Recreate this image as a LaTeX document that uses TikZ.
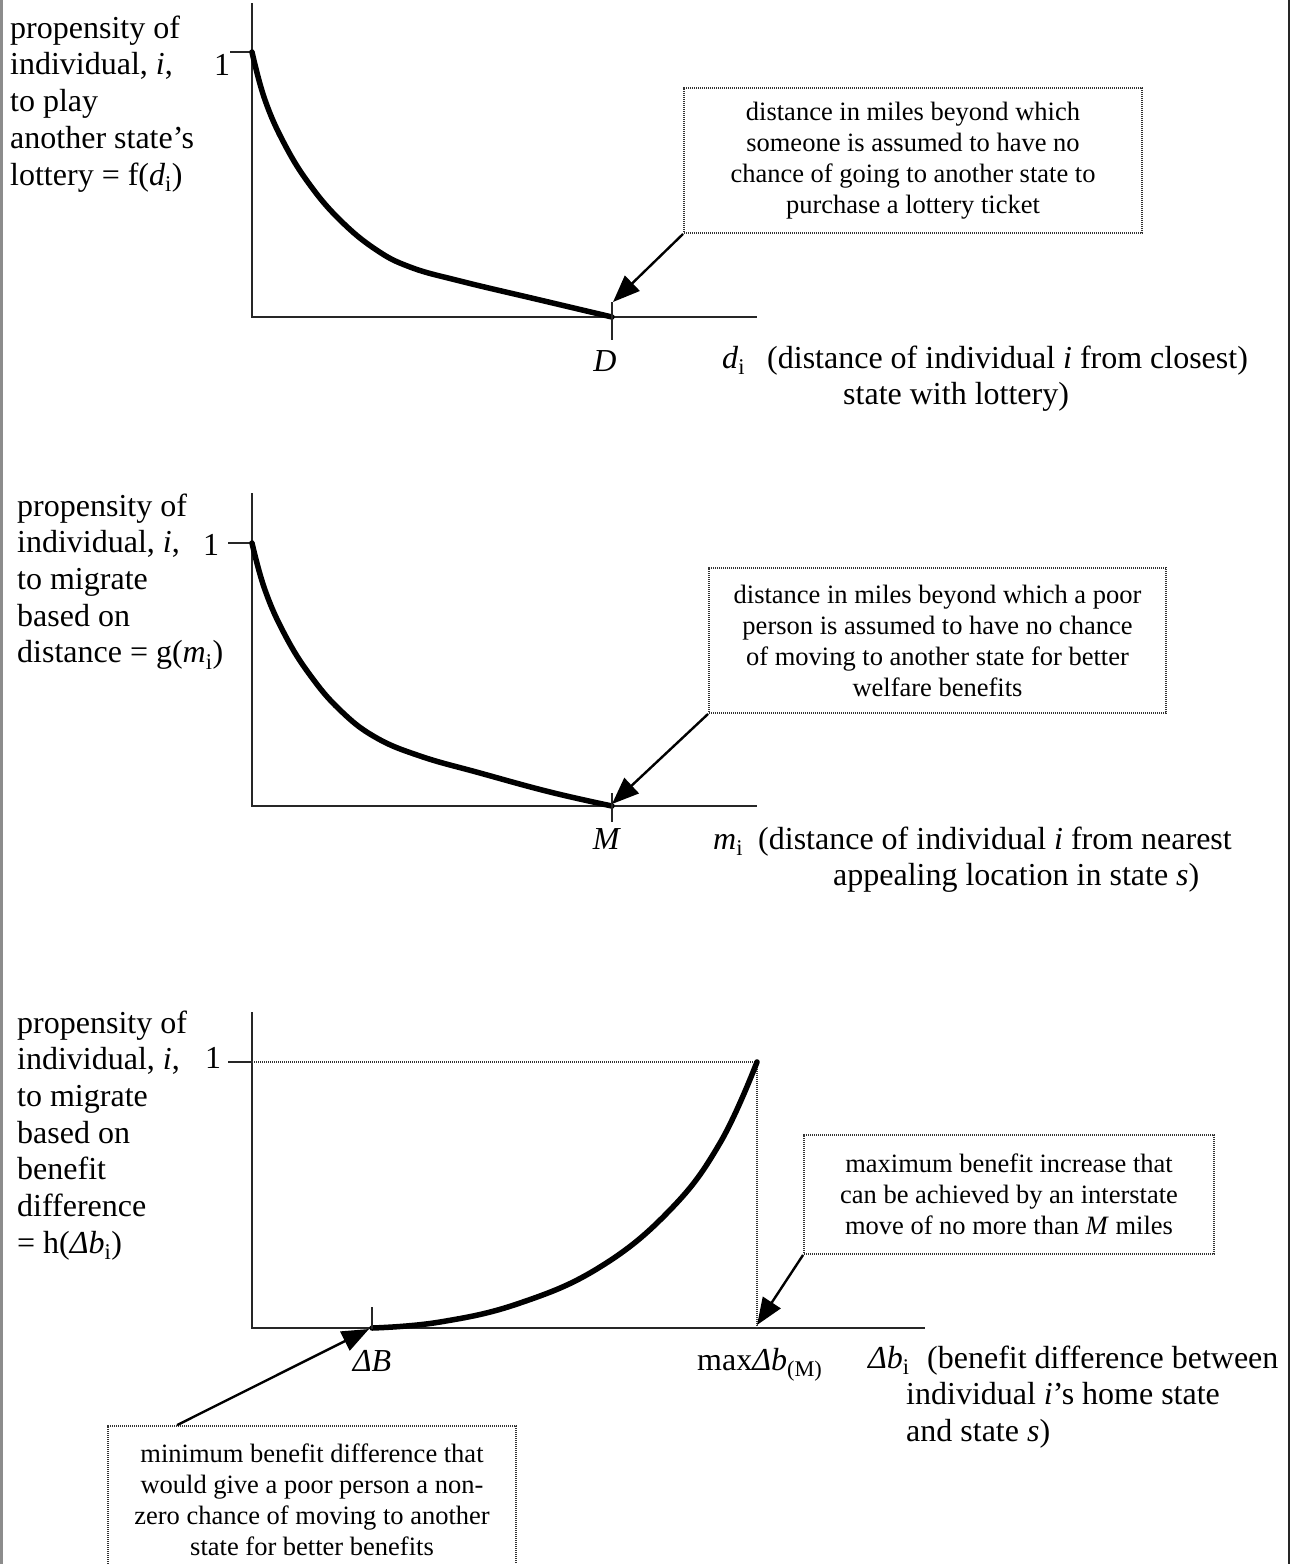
\documentclass[tikz,border=0pt]{standalone}
\usepackage{fontspec}
\setmainfont{Liberation Serif}
\usetikzlibrary{arrows.meta,calc}
\newcommand\bigfont{\fontsize{32}{36.7}\selectfont}
\newcommand\boxfont{\fontsize{26.5}{31}\selectfont}
\tikzset{
 axis/.style={line width=2.6pt, black!85},
 curve/.style={line width=5.5pt, line cap=round, line join=round},
 tickln/.style={line width=1.4pt, black!85},
 callout/.style={draw=black!80, line width=1.8pt, dash pattern=on 1.2pt off 0.8pt, inner sep=0pt, align=center, font=\boxfont},
 pointer/.style={line width=2.4pt, -{Triangle[length=27pt,width=21pt]}},
 guide/.style={line width=1.8pt, dash pattern=on 1.2pt off 0.8pt, black!80},
 lbl/.style={inner sep=0pt, font=\bigfont, anchor=base west, align=left},
 tlbl/.style={inner sep=0pt, font=\bigfont, anchor=base},
}
\begin{document}
\begin{tikzpicture}[x=1pt,y=-1pt]
\path[use as bounding box, clip] (0,0) rectangle (1291,1564);
% page borders
\draw[line width=3pt, black!45] (1.5,0) -- (1.5,1564);
\draw[line width=2pt, black!85] (1288.5,0) -- (1288.5,1564);

% ---------- graph 1 ----------
% (base anchor of a multi-line node = baseline of its last line)
\node[lbl] (p1) at (10,185) {propensity of\\individual, \textit{i},\\to play\\another state’s\\lottery = f(\textit{d}\textsubscript{i})};
\coordinate (o1) at (252,317);
\draw[axis] (252,3) -- (o1) -- (757,317);
\draw[tickln] (230,52) -- (252,52);
\node[lbl] (one1) at (214,75) {1};
\draw[curve] plot[smooth, tension=0.7] coordinates {(252,52) (265,100) (285,145) (310,185) (340,220) (375,249) (410,267) (460,281) (540,300) (612,317)};
\draw[tickln] (612,302) -- (612,340);
\node[tlbl] (Dlab) at (605,371) {\textit{D}};
\node[callout, minimum width=458pt, minimum height=145pt] (b1) at (913,160.5) {distance in miles beyond which\\someone is assumed to have no\\chance of going to another state to\\purchase a lottery ticket};
\coordinate (Dtip) at (613,302);
\draw[pointer] (b1.south west) -- (Dtip);
\node[lbl] (d1) at (722,368) {\textit{d}\textsubscript{i}};
\node[lbl] (ax1) at (767,404.7) {(distance of individual \textit{i} from closest)\\\hspace*{76pt}state with lottery)};

% ---------- graph 2 ----------
\node[lbl] (p2) at (17,662.8) {propensity of\\individual, \textit{i},\\to migrate\\based on\\distance = g(\textit{m}\textsubscript{i})};
\draw[axis] (252,493) -- (252,806) -- (757,806);
\draw[tickln] (228,543) -- (252,543);
\node[lbl] (one2) at (203,555) {1};
\draw[curve] plot[smooth, tension=0.7] coordinates {(252,543) (265,590) (285,635) (310,675) (340,710) (375,737) (420,756) (480,773) (550,792) (612,806)};
\draw[tickln] (612,793) -- (612,822);
\node[tlbl] (Mlab) at (607,849) {\textit{M}};
\node[callout, minimum width=457pt, minimum height=145pt] (b2) at (937.5,640.5) {distance in miles beyond which a poor\\person is assumed to have no chance\\of moving to another state for better\\welfare benefits};
\coordinate (Mtip) at (612,804);
\draw[pointer] (b2.south west) -- (Mtip);
\node[lbl] (m2) at (713,849) {\textit{m}\textsubscript{i}};
\node[lbl] (ax2) at (758,885.7) {(distance of individual \textit{i} from nearest\\\hspace*{75pt}appealing location in state \textit{s})};

% ---------- graph 3 ----------
\node[lbl] (p3) at (17,1253.2) {propensity of\\individual, \textit{i},\\to migrate\\based on\\benefit\\difference\\= h(\textit{Δb}\textsubscript{i})};
\draw[axis] (252,1012) -- (252,1328) -- (925,1328);
\draw[tickln] (228,1062) -- (252,1062);
\node[lbl] (one3) at (205,1068) {1};
\draw[guide] (252,1062) -- (757,1062) -- (757,1328);
\draw[curve] plot[smooth, tension=0.7] coordinates {(372,1328) (440,1322) (520,1303) (600,1267) (670,1210) (720,1143) (757,1062)};
\draw[tickln] (372,1307) -- (372,1329);
\node[tlbl] (Blab) at (372,1371) {\textit{ΔB}};
\node[lbl] (maxlab) at (697,1370) {max\textit{Δb}\textsubscript{(M)}};
\node[callout, minimum width=410pt, minimum height=119pt] (b3) at (1009,1194.5) {maximum benefit increase that\\can be achieved by an interstate\\move of no more than \textit{M} miles};
\coordinate (maxtip) at (757,1325);
\draw[pointer] (b3.south west) -- (maxtip);
\node[callout, minimum width=408pt, minimum height=147pt] (b4) at (312,1499.5) {minimum benefit difference that\\would give a poor person a non-\\zero chance of moving to another\\state for better benefits};
\coordinate (Btip) at (369,1329);
\draw[pointer] ([xshift=70pt]b4.north west) -- (Btip);
\node[lbl] (db3) at (868,1368) {\textit{Δb}\textsubscript{i}};
\node[lbl] (ax3) at (906,1441.4) {\hspace*{21pt}(benefit difference between\\individual \textit{i}’s home state\\and state \textit{s})};
\end{tikzpicture}
\end{document}
